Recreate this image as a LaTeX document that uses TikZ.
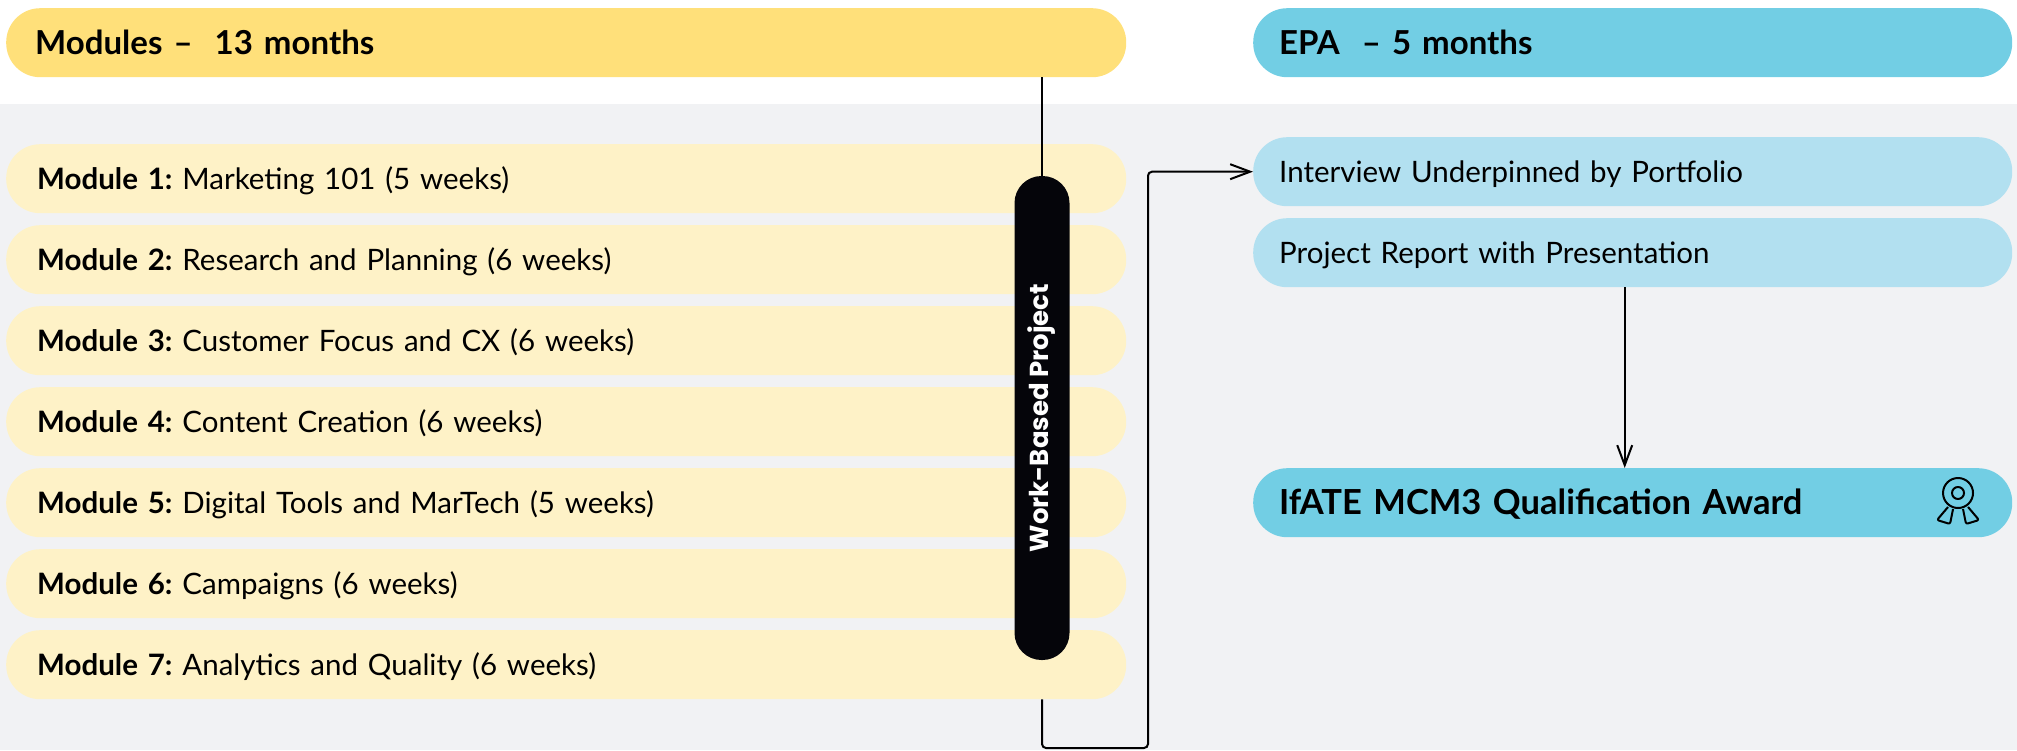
\documentclass[tikz,border=0pt]{standalone}
\usepackage{fontspec}
\setmainfont{Lato}[WordSpace=0.9]
\newfontfamily\wbpfont{Poppins}
\usetikzlibrary{arrows.meta,calc}
\frenchspacing
\definecolor{hdryellow}{HTML}{FFE07A}
\definecolor{modyellow}{HTML}{FEF2C7}
\definecolor{bggray}{HTML}{F1F2F4}
\definecolor{hdrblue}{HTML}{72CEE4}
\definecolor{lightblue}{HTML}{B2E0F0}
\definecolor{pillblack}{HTML}{05050A}
\tikzset{
  bar/.style={rectangle, rounded corners=34pt, minimum height=69pt, inner ysep=0pt,
    text height=21pt, text depth=0pt, align=left, anchor=north west},
  modbox/.style={bar, fill=modyellow, inner xsep=31pt, text width=1058pt,
    font=\fontsize{29.5}{32}\selectfont},
  hdrbox/.style={bar, inner xsep=29pt, text height=23pt, font=\fontsize{33}{36}\selectfont\bfseries},
  epabox/.style={bar, inner xsep=26pt, text width=707pt, font=\fontsize{29.5}{32}\selectfont},
  conn/.style={line width=2pt, draw=black},
  arr/.style={conn, -{Straight Barb[length=20pt,width=15pt,line width=2pt]}},
}
\begin{document}
\frenchspacing
\begin{tikzpicture}[x=1pt,y=-1pt]
\useasboundingbox (0,0) rectangle (2017,750);
\fill[bggray] (0,104) rectangle (2017,750);
% headers
\node[hdrbox, fill=hdryellow, text width=1062pt] (hdrmod) at (6,8) {Modules –\ \ 13 months};
\node[hdrbox, fill=hdrblue, inner xsep=26pt, text width=707pt] (hdrepa) at (1253,8) {EPA\ \ – 5 months};
% modules
\node[modbox] (m1) at (6,144) {\textbf{Module 1:} Marketing 101 (5 weeks)};
\node[modbox] (m2) at (6,225) {\textbf{Module 2:} Research and Planning (6 weeks)};
\node[modbox] (m3) at (6,306) {\textbf{Module 3:} Customer Focus and CX (6 weeks)};
\node[modbox] (m4) at (6,387) {\textbf{Module 4:} Content Creation (6 weeks)};
\node[modbox] (m5) at (6,468) {\textbf{Module 5:} Digital Tools and MarTech (5 weeks)};
\node[modbox] (m6) at (6,549) {\textbf{Module 6:} Campaigns (6 weeks)};
\node[modbox] (m7) at (6,630) {\textbf{Module 7:} Analytics and Quality (6 weeks)};
% work-based project pill
\coordinate (pilltop) at (1042,176);
\coordinate (pillbot) at (1042,660);
\node[rectangle, fill=pillblack, rounded corners=27pt, minimum width=484pt, minimum height=55pt,
  inner sep=0pt, rotate=90, text=white, font=\wbpfont\bfseries\fontsize{26}{30}\selectfont]
  (pill) at ($(pilltop)!0.5!(pillbot)$) {Work-Based Project};
% EPA boxes
\node[epabox, fill=lightblue] (interview) at (1253,137) {Interview Underpinned by Portfolio};
\node[epabox, fill=lightblue] (report) at (1253,218) {Project Report with Presentation};
\node[epabox, fill=hdrblue, text height=24pt, font=\fontsize{34.5}{38}\selectfont\bfseries] (award) at (1253,468) {IfATE MCM3 Qualification Award};
% award icon
\begin{scope}[line width=2pt, line join=round]
\draw (1958,493) circle (15);
\draw (1958,493) circle (6);
\draw[rounded corners=2pt] (1948,507) -- (1937,520) -- (1950,524) -- (1953,509);
\draw[rounded corners=2pt] (1968,507) -- (1979,520) -- (1966,524) -- (1963,509);
\end{scope}
% connectors
\draw[conn] (hdrmod.south -| pilltop) -- (pilltop);
\coordinate (retcorner) at (1148,748);
\draw[arr, rounded corners=4pt] (m7.south -| pilltop) |- (retcorner) |- (interview.west);
\draw[arr] ([xshift=-8pt]report.south) -- ([xshift=-8pt]award.north);
\end{tikzpicture}
\end{document}
